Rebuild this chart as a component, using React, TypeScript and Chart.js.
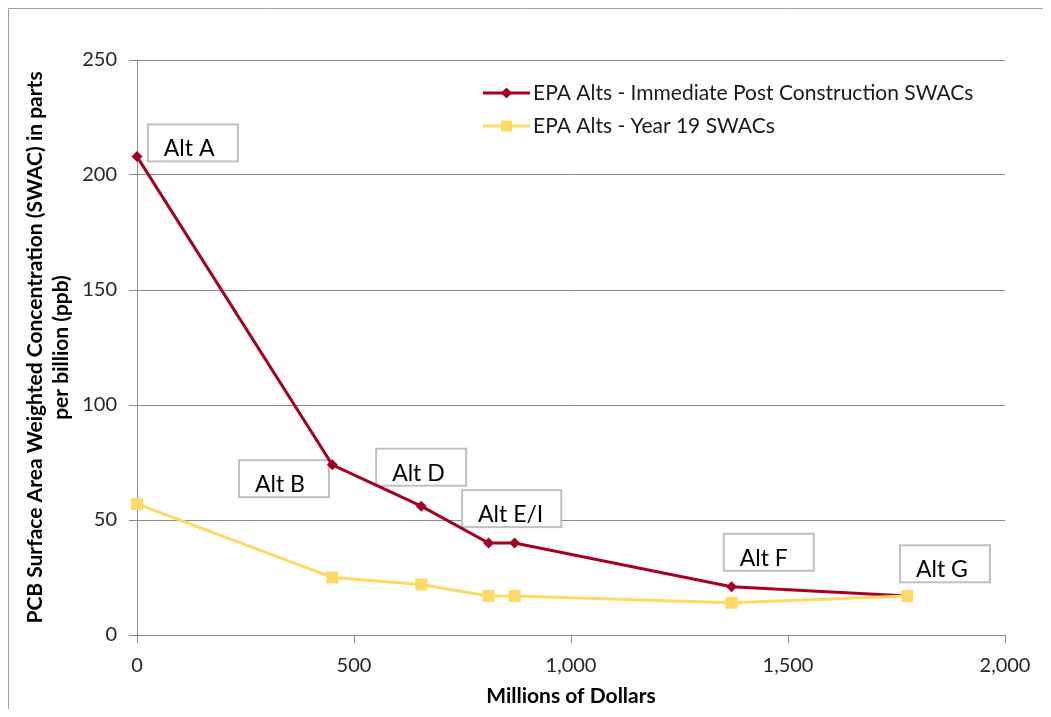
import React, { useEffect, useRef } from 'react';
import { Chart, registerables } from 'chart.js';

Chart.register(...registerables);

// ---- data ----
const costs = [0, 450, 655, 810, 870, 1370, 1775];
const immediateSWAC = [208, 74, 56, 40, 40, 21, 17];
const year19SWAC = [57, 25, 22, 17, 17, 14, 17];
const seriesNames = ['EPA Alts - Immediate Post Construction SWACs', 'EPA Alts - Year 19 SWACs'];
const altLabels = ['Alt A', 'Alt B', 'Alt D', 'Alt E/I', 'Alt F', 'Alt G'];
const altLabelX = [25, 235, 551, 749, 1352, 1758];
const altLabelY = [222, 76, 81, 63, 44, 39];
const xTicks = [0, 500, 1000, 1500, 2000];
const yTicks = [0, 50, 100, 150, 200, 250];
const xTitle = 'Millions of Dollars';
const yTitle = ['PCB Surface Area Weighted Concentration (SWAC) in parts', 'per billion (ppb)'];

const FONT = 'Lato, "Open Sans", sans-serif';
const RED = '#A50021';
const YELLOW = '#FFD966';
const GRID = '#8c8c8c';

const annotationPlugin = {
  id: 'altBoxes',
  beforeDatasetsDraw(chart: any) {
    const { ctx } = chart;
    const xs = chart.scales.x;
    const ys = chart.scales.y;
    ctx.save();
    ctx.font = `23px ${FONT}`;
    altLabels.forEach((t, i) => {
      const left = xs.getPixelForValue(altLabelX[i]);
      const top = ys.getPixelForValue(altLabelY[i]);
      const tw = ctx.measureText(t).width;
      const w = Math.max(tw + 34, 90);
      const h = 37;
      ctx.fillStyle = '#ffffff';
      ctx.fillRect(left, top, w, h);
      ctx.strokeStyle = '#c0c0c0';
      ctx.lineWidth = 2;
      ctx.strokeRect(left, top, w, h);
      ctx.fillStyle = '#000000';
      ctx.textAlign = 'left';
      ctx.textBaseline = 'alphabetic';
      ctx.fillText(t, left + 16, top + 32);
    });
    ctx.restore();
  },
};

const legendPlugin = {
  id: 'insideLegend',
  afterDraw(chart: any) {
    const { ctx, chartArea } = chart;
    ctx.save();
    // outer frame (top & left visible)
    ctx.strokeStyle = '#a0a0a0';
    ctx.lineWidth = 1;
    ctx.beginPath();
    ctx.moveTo(0.5, chart.height);
    ctx.lineTo(0.5, 0.5);
    ctx.lineTo(chart.width, 0.5);
    ctx.stroke();

    const x0 = chartArea.left + 346;
    const x1 = x0 + 47;
    const cx = (x0 + x1) / 2;
    const rows = [chartArea.top + 33, chartArea.top + 66];
    const colors = [RED, YELLOW];
    rows.forEach((y, i) => {
      ctx.strokeStyle = colors[i];
      ctx.lineWidth = 3;
      ctx.beginPath();
      ctx.moveTo(x0, y);
      ctx.lineTo(x1, y);
      ctx.stroke();
      ctx.fillStyle = colors[i];
      ctx.beginPath();
      if (i === 0) {
        ctx.moveTo(cx, y - 5.5);
        ctx.lineTo(cx + 5.5, y);
        ctx.lineTo(cx, y + 5.5);
        ctx.lineTo(cx - 5.5, y);
        ctx.closePath();
      } else {
        ctx.rect(cx - 5.5, y - 5.5, 11, 11);
      }
      ctx.fill();
      ctx.fillStyle = '#1a1a1a';
      ctx.font = `21px ${FONT}`;
      ctx.textAlign = 'left';
      ctx.textBaseline = 'middle';
      ctx.fillText(seriesNames[i], x1 + 3, y);
    });
    ctx.restore();
  },
};

export default function App() {
  const ref = useRef<HTMLCanvasElement>(null);
  useEffect(() => {
    if (!ref.current) return;
    const chart = new Chart(ref.current, {
      type: 'line',
      data: {
        datasets: [
          {
            label: seriesNames[0],
            data: costs.map((c, i) => ({ x: c, y: immediateSWAC[i] })),
            borderColor: RED,
            backgroundColor: RED,
            borderWidth: 3,
            pointStyle: 'rectRot',
            pointRadius: 5.5,
            pointBorderWidth: 0,
            pointBackgroundColor: RED,
            tension: 0,
            clip: false,
            order: 1,
          },
          {
            label: seriesNames[1],
            data: costs.map((c, i) => ({ x: c, y: year19SWAC[i] })),
            borderColor: YELLOW,
            backgroundColor: YELLOW,
            borderWidth: 3,
            pointStyle: 'rect',
            pointRadius: 8.5,
            pointBorderWidth: 0,
            pointBackgroundColor: YELLOW,
            tension: 0,
            clip: false,
            order: 0,
          },
        ],
      },
      options: {
        animation: false,
        responsive: false,
        maintainAspectRatio: false,
        layout: { padding: { top: 52, right: 38, left: 0, bottom: 0 } },
        plugins: { legend: { display: false }, tooltip: { enabled: false } },
        scales: {
          x: {
            type: 'linear',
            min: xTicks[0],
            max: xTicks[xTicks.length - 1],
            afterBuildTicks: (s: any) => { s.ticks = xTicks.map((v) => ({ value: v })); },
            afterFit: (s: any) => { s.height = 74; },
            grid: { drawOnChartArea: false, drawTicks: true, tickLength: 8, color: GRID },
            border: { color: GRID, width: 1 },
            ticks: {
              padding: 11,
              color: '#262626',
              font: { family: FONT, size: 20 },
              callback: (v: any) => Number(v).toLocaleString('en-US'),
            },
            title: {
              display: true,
              text: xTitle,
              color: '#000000',
              font: { family: FONT, size: 21, weight: 'bold' },
              padding: { top: 0, bottom: 0 },
            },
          },
          y: {
            type: 'linear',
            min: yTicks[0],
            max: yTicks[yTicks.length - 1],
            afterBuildTicks: (s: any) => { s.ticks = yTicks.map((v) => ({ value: v })); },
            afterFit: (s: any) => { s.width = 129; },
            grid: { drawOnChartArea: true, drawTicks: true, tickLength: 8, color: GRID },
            border: { color: GRID, width: 1 },
            ticks: {
              padding: 12,
              color: '#262626',
              font: { family: FONT, size: 20 },
            },
            title: {
              display: true,
              text: yTitle,
              color: '#000000',
              font: { family: FONT, size: 21, weight: 'bold', lineHeight: 1.24 },
              padding: { top: 14, bottom: 0 },
            },
          },
        },
      },
      plugins: [annotationPlugin, legendPlugin],
    } as any);
    return () => chart.destroy();
  }, []);

  return (
    <div style={{ width: 1035, height: 701, position: 'relative' }}>
      <canvas ref={ref} width={1035} height={701} style={{ width: 1035, height: 701, display: 'block' }} />
    </div>
  );
}
